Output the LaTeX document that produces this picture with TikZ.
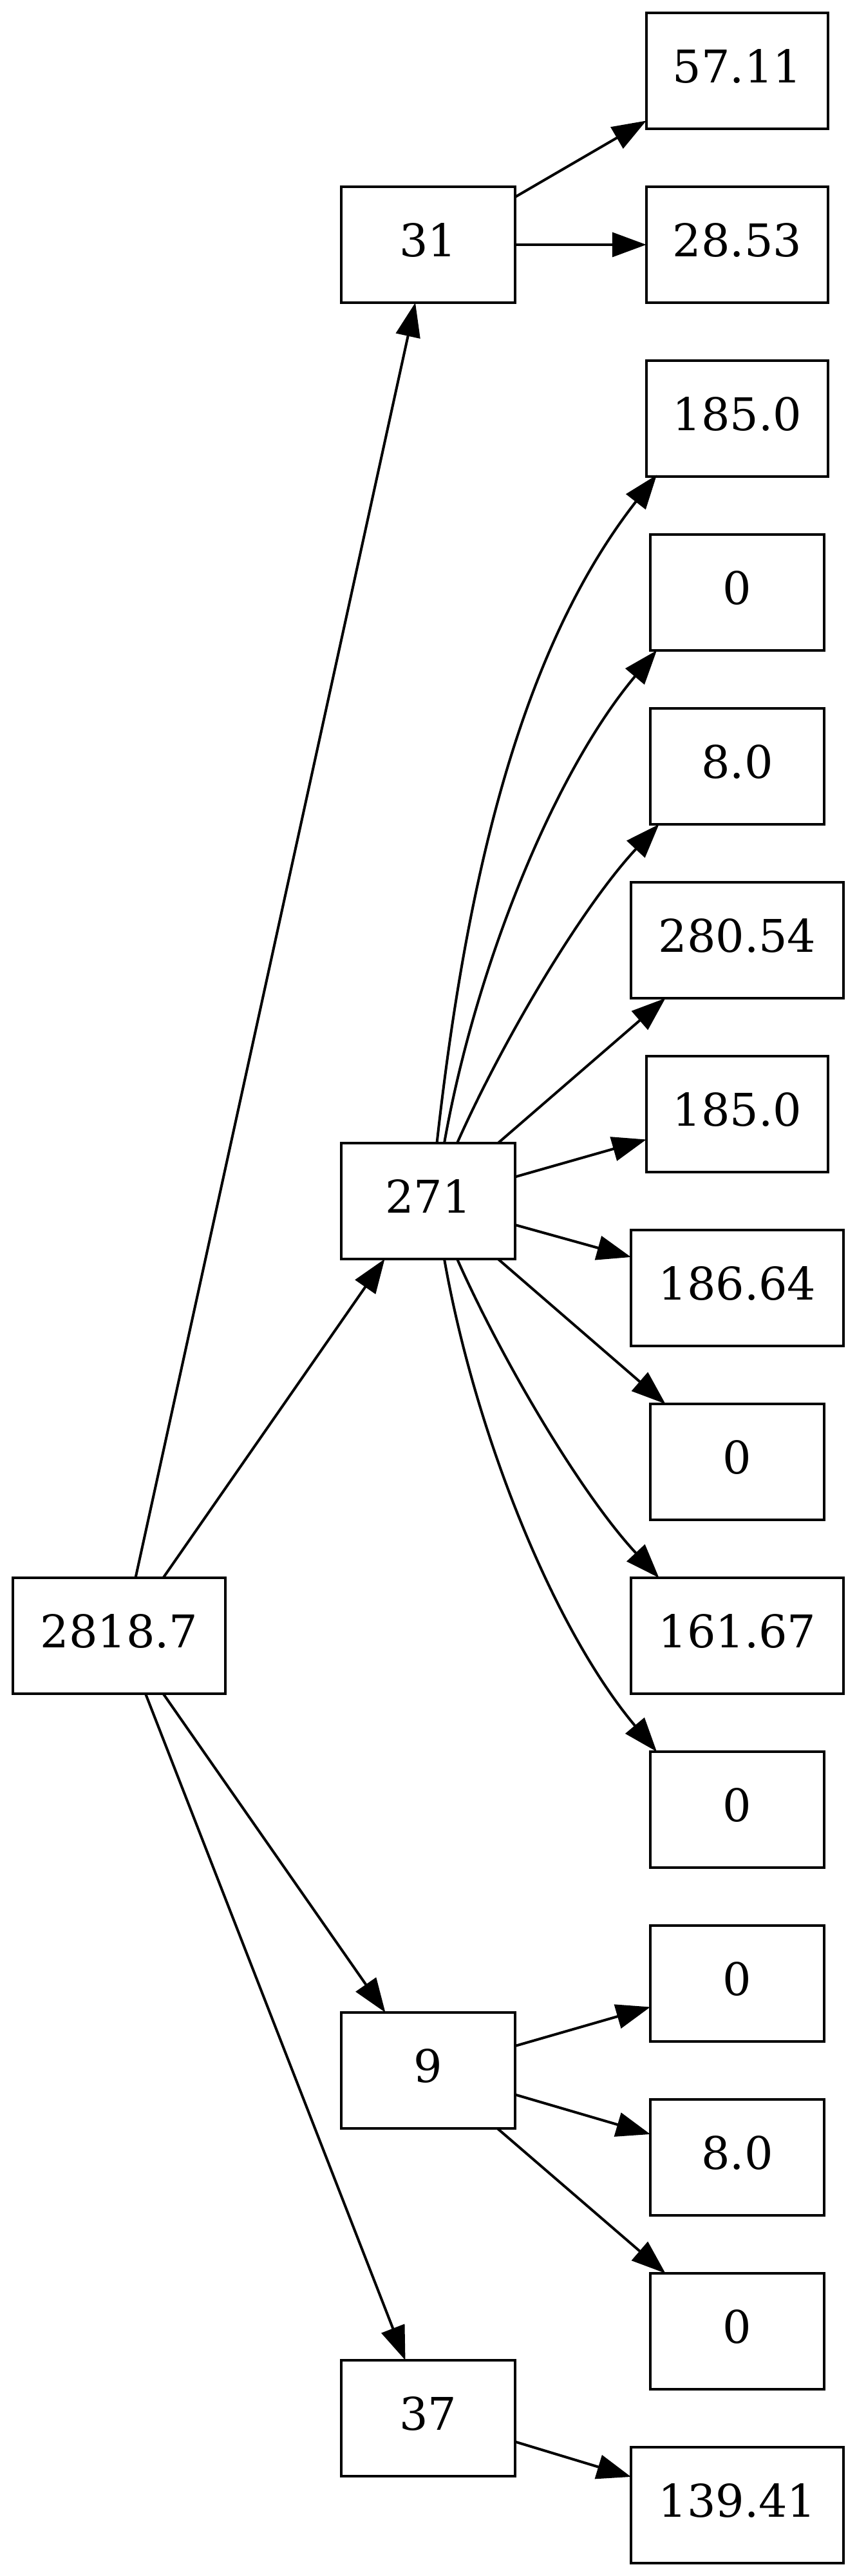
\documentclass[tikz,border=0pt]{standalone}
\usepackage{fontspec}
\setmainfont{DejaVu Serif}
\usetikzlibrary{arrows.meta,calc}
\tikzset{
  box/.style={draw, rectangle, line width=0.8pt, minimum height=36pt, inner sep=0pt, outer sep=0pt,
    text height=10.2pt, text depth=2.6pt, font=\fontsize{14}{16.8}\selectfont},
  wa/.style={box, minimum width=54pt},
  wb/.style={box, minimum width=56.5pt},
  wc/.style={box, minimum width=66pt},
  edge/.style={line width=0.8pt, -{Triangle[length=10.6pt,width=7.6pt]}}
}
\begin{document}
\begin{tikzpicture}[x=1pt,y=1pt]
\useasboundingbox (0,0) rectangle (266,800);
% nodes
\node[wc] (r) at (37,292) {2818.7};
\node[wa] (a31) at (133,724) {31};
\node[wa] (a271) at (133,427) {271};
\node[wa] (a9) at (133,157) {9};
\node[wa] (a37) at (133,49) {37};
\node[wb] (l0) at (229,778) {57.11};
\node[wb] (l1) at (229,724) {28.53};
\node[wb] (l2) at (229,670) {185.0};
\node[wa] (l3) at (229,616) {0};
\node[wa] (l4) at (229,562) {8.0};
\node[wc] (l5) at (229,508) {280.54};
\node[wb] (l6) at (229,454) {185.0};
\node[wc] (l7) at (229,400) {186.64};
\node[wa] (l8) at (229,346) {0};
\node[wc] (l9) at (229,292) {161.67};
\node[wa] (l10) at (229,238) {0};
\node[wa] (l11) at (229,184) {0};
\node[wa] (l12) at (229,130) {8.0};
\node[wa] (l13) at (229,76) {0};
\node[wc] (l14) at (229,22) {139.41};
% root edges
\draw[edge] ($(r.north)+(5.1,0)$) -- ($(a31.south)+(-4,0)$);
\draw[edge] ($(r.north)+(13.7,0)$) -- ($(a271.south)+(-13.5,0)$);
\draw[edge] ($(r.south)+(13.7,0)$) -- ($(a9.north)+(-13.3,0)$);
\draw[edge] ($(r.south)+(8.2,0)$) -- ($(a37.north)+(-7.1,0)$);
% 31
\draw[edge] ($(a31.east)+(0,14.8)$) -- ($(l0.south west)+(0,2.5)$);
\draw[edge] (a31.east) -- (l1.west);
% 271 upward
\draw[edge] ($(a271.north)+(2.7,0)$) .. controls +(8.9,79.5) and +(-43.1,-55.2) .. ($(l2.south west)+(3.25,0.5)$);
\draw[edge] ($(a271.north)+(5,0)$) .. controls +(9.6,54.2) and +(-32.15,-38.3) .. ($(l3.south west)+(2,0)$);
\draw[edge] ($(a271.north)+(9,0)$) .. controls +(14.2,32) and +(-23.9,-25.6) .. ($(l4.south west)+(2.7,0)$);
\draw[edge] ($(a271.north)+(21.7,0)$) -- ($(l5.south west)+(10.7,0)$);
% 271 sideways
\draw[edge] ($(a271.east)+(0,7.5)$) -- ($(l6.west)+(0,-7.9)$);
\draw[edge] ($(a271.east)+(0,-7.4)$) -- ($(l7.west)+(0,9.6)$);
% 271 downward
\draw[edge] ($(a271.south)+(21.7,0)$) -- ($(l8.north west)+(4.7,0)$);
\draw[edge] ($(a271.south)+(9,0)$) .. controls +(14.2,-32) and +(-23.9,25.6) .. ($(l9.north west)+(8.7,0)$);
\draw[edge] ($(a271.south)+(5,0)$) .. controls +(9.6,-54.2) and +(-32.15,38.3) .. ($(l10.north west)+(2,0)$);
% 9
\draw[edge] ($(a9.east)+(0,7.6)$) -- ($(l11.west)+(0,-7.3)$);
\draw[edge] ($(a9.east)+(0,-7.5)$) -- ($(l12.west)+(0,7.2)$);
\draw[edge] ($(a9.south)+(21.5,0)$) -- ($(l13.north)+(-22.3,0)$);
% 37
\draw[edge] ($(a37.east)+(0,-7.3)$) -- ($(l14.west)+(0,8.8)$);
\end{tikzpicture}
\end{document}
